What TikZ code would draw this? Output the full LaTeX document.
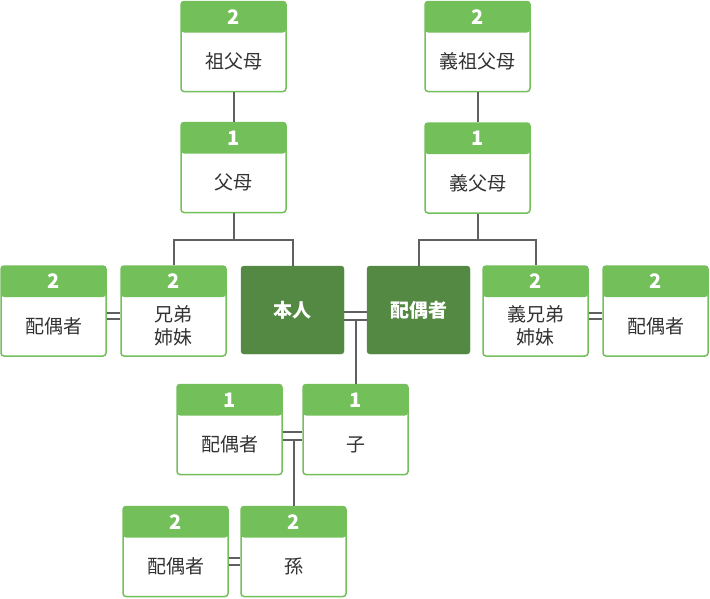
\documentclass[tikz,border=0pt]{standalone}
\usepackage{fontspec}
\setmainfont{Noto Sans CJK JP}
\usetikzlibrary{calc}
\definecolor{lg}{HTML}{73BF5A}
\definecolor{dg}{HTML}{538942}
\definecolor{ln}{HTML}{606060}
\definecolor{tx}{HTML}{333333}
\tikzset{
  gbox/.style={draw=lg, line width=1.5pt, fill=white, rounded corners=3pt,
    minimum width=105pt, minimum height=90pt, inner sep=0pt,
    path picture={\fill[lg] (path picture bounding box.north west) rectangle ([yshift=-31pt]path picture bounding box.north east);}},
  dbox/.style={fill=dg, draw=dg, rounded corners=3pt, minimum width=103pt, minimum height=88pt,
    inner sep=0pt, text=white, font=\fontsize{19}{22}\selectfont\bfseries},
  numtext/.style={text=white, font=\fontsize{20}{22}\selectfont\bfseries, inner sep=0pt},
  bodytext/.style={text=tx, font=\fontsize{19}{23}\selectfont, align=center, inner sep=0pt},
  conn/.style={draw=ln, line width=2pt}
}
\newcommand\gbox[5]{%
  \node[gbox] (#1) at (#2,#3) {};
  \node[numtext] (#1-n) at ([yshift=-16pt]#1.north) {#4};
  \node[bodytext] (#1-t) at ([yshift=-15pt]#1.center) {#5};
}
\begin{document}
\begin{tikzpicture}[x=1pt,y=-1pt]
\useasboundingbox (0,0) rectangle (710,598);
% boxes
\gbox{gp}{233.5}{46.5}{2}{祖父母}
\gbox{p}{233.5}{167.5}{1}{父母}
\gbox{igp}{477.5}{46.5}{2}{義祖父母}
\gbox{ip}{477.5}{168}{1}{義父母}
\gbox{spa}{53.5}{311}{2}{配偶者}
\gbox{sib}{173.5}{311}{2}{兄弟\\姉妹}
\node[dbox] (me) at (292.5,310) {本人};
\node[dbox] (spouse) at (418.5,310) {配偶者};
\gbox{isib}{535.5}{311}{2}{義兄弟\\姉妹}
\gbox{spb}{655.5}{311}{2}{配偶者}
\gbox{csp}{229.5}{429.5}{1}{配偶者}
\gbox{child}{355.5}{429.5}{1}{子}
\gbox{gsp}{175.5}{551.5}{2}{配偶者}
\gbox{gc}{293.5}{551.5}{2}{孫}
% connectors
\draw[conn] (gp.south) -- (p.north);
\draw[conn] (igp.south) -- (ip.north);
\coordinate (pj) at (233.5,240);
\coordinate (ipj) at (477.5,240);
\draw[conn] (p.south) -- (pj);
\draw[conn] (sib.north) |- (pj) -| (me.north);
\draw[conn] (ip.south) -- (ipj);
\draw[conn] (spouse.north) |- (ipj) -| (isib.north);
% double lines
\draw[conn] ([yshift=-2pt]spa.east) -- ([yshift=-2pt]sib.west);
\draw[conn] ([yshift=-8pt]spa.east) -- ([yshift=-8pt]sib.west);
\draw[conn] ([yshift=-2pt]isib.east) -- ([yshift=-2pt]spb.west);
\draw[conn] ([yshift=-8pt]isib.east) -- ([yshift=-8pt]spb.west);
\draw[conn] ([yshift=-2pt]me.east) -- ([yshift=-2pt]spouse.west);
\draw[conn] ([yshift=-10pt]me.east) coordinate (mj) -- ([yshift=-10pt]spouse.west);
\draw[conn] (child.north) -- (child.north |- mj);
\draw[conn] ([yshift=-2.5pt]csp.east) -- ([yshift=-2.5pt]child.west);
\draw[conn] ([yshift=-10.5pt]csp.east) coordinate (cj) -- ([yshift=-10.5pt]child.west);
\draw[conn] (gc.north) -- (gc.north |- cj);
\draw[conn] ([yshift=-6.5pt]gsp.east) -- ([yshift=-6.5pt]gc.west);
\draw[conn] ([yshift=-13.5pt]gsp.east) -- ([yshift=-13.5pt]gc.west);
\end{tikzpicture}
\end{document}
